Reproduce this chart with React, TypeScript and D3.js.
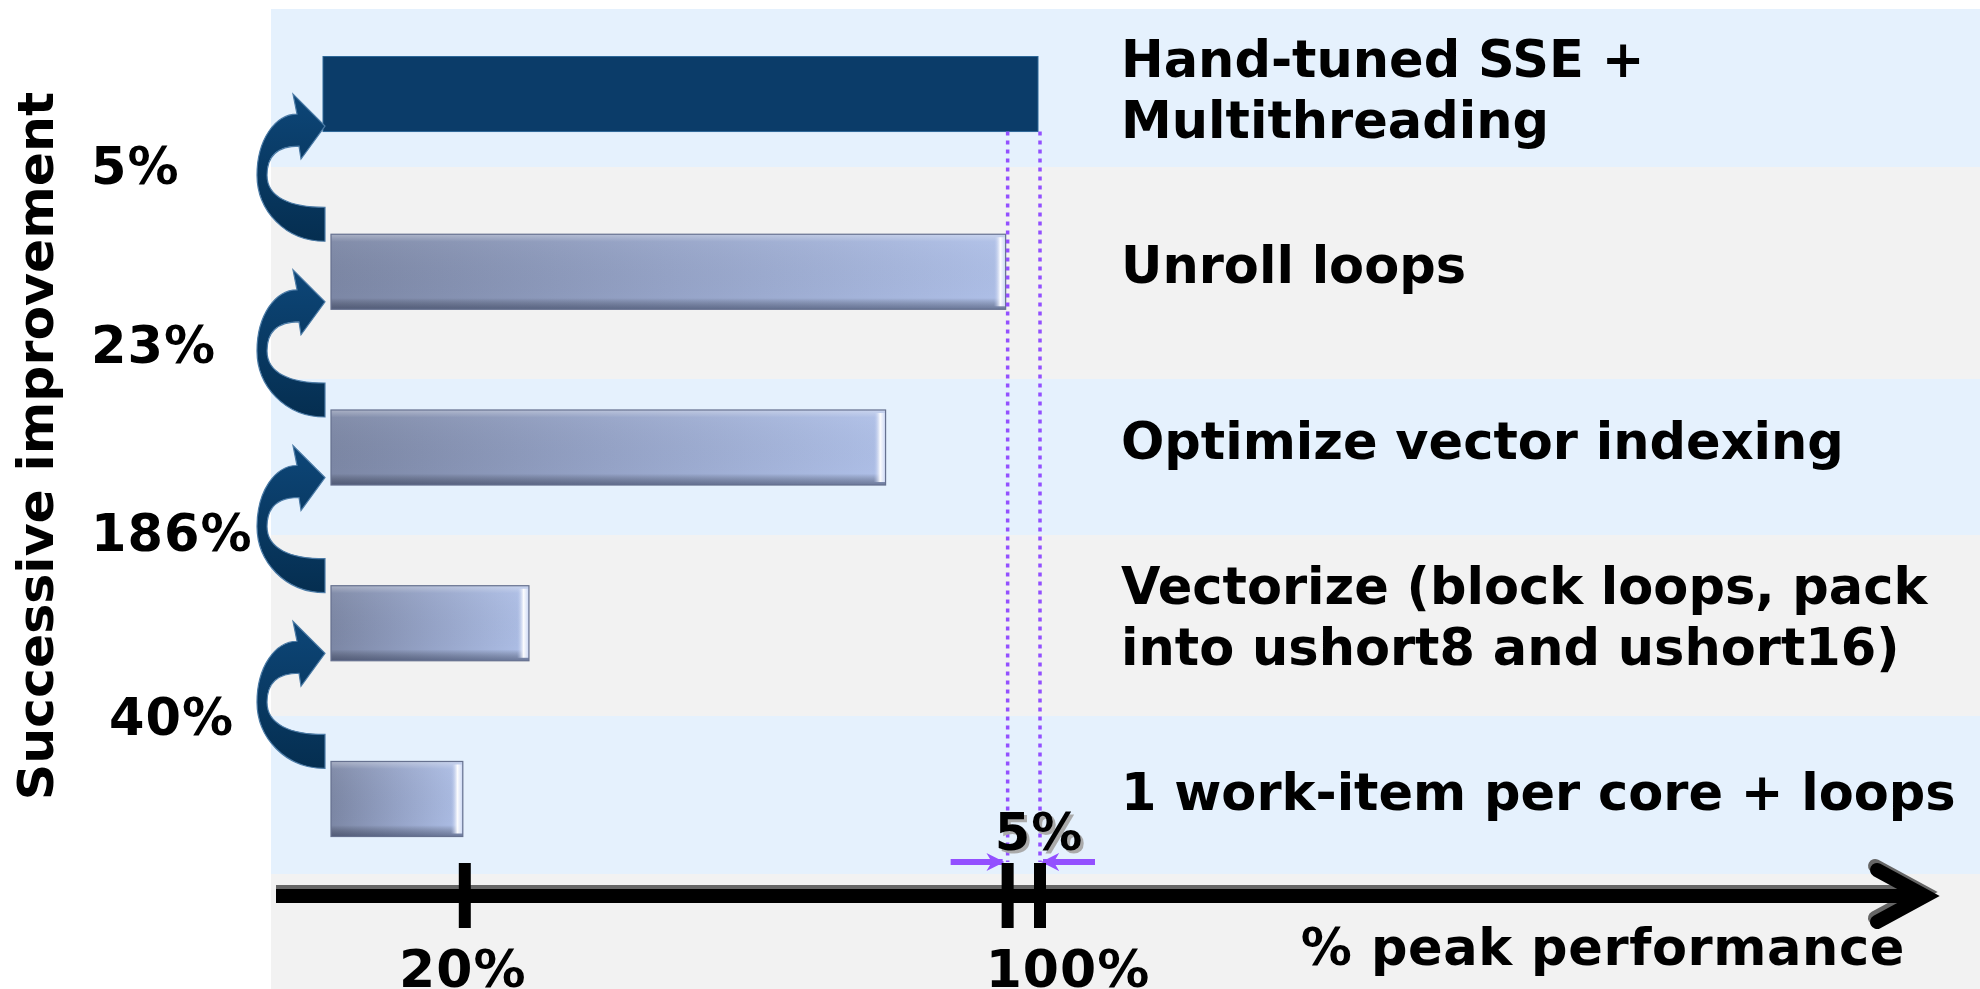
import React from 'react';
import * as d3 from 'd3';

// rows, top to bottom
const categories = [
  'Hand-tuned SSE + Multithreading',
  'Unroll loops',
  'Optimize vector indexing',
  'Vectorize (block loops, pack into ushort8 and ushort16)',
  '1 work-item per core + loops',
];
const labelLines = [
  ['Hand-tuned SSE +', 'Multithreading'],
  ['Unroll loops'],
  ['Optimize vector indexing'],
  ['Vectorize (block loops, pack', 'into ushort8 and ushort16)'],
  ['1 work-item per core + loops'],
];
const peakPct = [100, 95.5, 78.8, 29.2, 20];
const improvements = ['5%', '23%', '186%', '40%'];
const tickValues = [20, 95.5, 100];
const tickLabelValues = [20, 100];
const tickLabels = ['20%', '100%'];
const gapLabel = '5%';
const yTitle = 'Successive improvement';
const xTitle = '% peak performance';

const W = 1980;
const H = 989;
const FONT = "'DejaVu Sans', Verdana, sans-serif";
const rowEdges = [9, 167, 379, 535, 716, 874, H]; // background stripes
const PURPLE = '#9350FF';

// PowerPoint-like curved right arrow, tail at the bottom, head at the top
function curvedArrow(xt: number, yHead: number, yTail: number) {
  const ym = (yHead + yTail) / 2;
  const p = d3.path();
  p.moveTo(xt, yTail + 17);
  p.bezierCurveTo(xt - 40, yTail + 17, xt - 68, ym + 35, xt - 68, ym);
  p.bezierCurveTo(xt - 68, ym - 35, xt - 50, yHead - 12, xt - 28, yHead - 12);
  p.lineTo(xt - 32, yHead - 32);
  p.lineTo(xt, yHead);
  p.lineTo(xt - 24, yHead + 33);
  p.lineTo(xt - 26, yHead + 20);
  p.bezierCurveTo(xt - 45, yHead + 20, xt - 58, ym - 22, xt - 58, ym);
  p.bezierCurveTo(xt - 58, ym + 22, xt - 35, yTail - 17, xt, yTail - 17);
  p.closePath();
  return p.toString();
}

export default function App() {
  const x = d3.scaleLinear().domain([0, 100]).range([319, 1038]);
  const y = d3
    .scaleBand<string>()
    .domain(categories)
    .range([58.5, 836.5])
    .paddingInner(0.573)
    .paddingOuter(0);
  const bw = y.bandwidth();
  const yImp = d3.scalePoint<string>().domain(improvements).range([184, 735]);
  const barLeft = (i: number) => (i === 0 ? x(0) + 4 : x(0) + 12);

  const axisY = 896;
  const axisStart = 276;
  const tipX = 1925;

  return (
    <svg
      width={W}
      height={H}
      style={{ position: 'absolute', left: 0, top: 0, display: 'block', background: '#fff' }}
      fontFamily={FONT}
    >
      <defs>
        <linearGradient id="barFill" x1="0" x2="1" y1="0" y2="0">
          <stop offset="0" stopColor="#7C87A5" />
          <stop offset="0.5" stopColor="#95A3C7" />
          <stop offset="1" stopColor="#AEBFE7" />
        </linearGradient>
        <linearGradient id="barBevel" x1="0" x2="0" y1="0" y2="1">
          <stop offset="0" stopColor="#fff" stopOpacity="0.35" />
          <stop offset="0.1" stopColor="#fff" stopOpacity="0.05" />
          <stop offset="0.85" stopColor="#000" stopOpacity="0" />
          <stop offset="1" stopColor="#1c2540" stopOpacity="0.45" />
        </linearGradient>
        <linearGradient id="barEnd" x1="0" x2="1" y1="0" y2="0">
          <stop offset="0" stopColor="#B4C4EC" stopOpacity="0" />
          <stop offset="0.55" stopColor="#ffffff" stopOpacity="0.95" />
          <stop offset="1" stopColor="#C9D6F4" />
        </linearGradient>
        <linearGradient id="arrowFill" x1="0" x2="0" y1="0" y2="1">
          <stop offset="0" stopColor="#0D4678" />
          <stop offset="1" stopColor="#052E50" />
        </linearGradient>
        <marker id="pArrow" viewBox="0 0 10 10" refX="9" refY="5" markerWidth="3" markerHeight="3" orient="auto">
          <path d="M0,0 L10,5 L0,10 L3,5 Z" fill={PURPLE} />
        </marker>
      </defs>

      {/* background stripes */}
      {rowEdges.slice(0, -1).map((e, i) => (
        <rect
          key={i}
          x={271}
          y={e}
          width={W - 271}
          height={rowEdges[i + 1] - e}
          fill={i % 2 === 0 ? '#E5F1FD' : '#F2F2F2'}
        />
      ))}

      {/* bars */}
      {categories.map((c, i) => {
        const x0 = barLeft(i);
        const x1 = x(peakPct[i]);
        const y0 = y(c)!;
        if (i === 0) {
          return (
            <rect key={c} x={x0} y={y0 - 2} width={x1 - x0} height={bw} fill="#0B3C69" stroke="#2E6898" strokeWidth={1} />
          );
        }
        return (
          <g key={c}>
            <rect x={x0} y={y0} width={x1 - x0} height={bw} fill="url(#barFill)" />
            <rect x={x0} y={y0} width={x1 - x0} height={bw} fill="url(#barBevel)" />
            <rect x={x1 - 12} y={y0 + 3} width={12} height={bw - 6} fill="url(#barEnd)" />
            <rect x={x0} y={y0} width={x1 - x0} height={bw} fill="none" stroke="#66718F" strokeWidth={1.2} />
          </g>
        );
      })}

      {/* curved improvement arrows + labels */}
      {improvements.map((lab, i) => {
        const xt = barLeft(i + 1) - 6;
        const yHead = y(categories[i])! + bw * 0.9;
        const yTail = y(categories[i + 1])! - 10;
        return (
          <g key={lab}>
            <path d={curvedArrow(xt, yHead, yTail)} fill="url(#arrowFill)" stroke="#4C7BA6" strokeWidth={1.2} />
            <text
              x={i === improvements.length - 1 ? 109 : 91}
              y={yImp(lab)! - (i === 1 ? 5 : 0)}
              fontSize={51}
              fontWeight="bold"
              fill="#000"
              letterSpacing={1}
            >
              {lab}
            </text>
          </g>
        );
      })}

      {/* category labels */}
      {categories.map((c, i) => {
        const lines = labelLines[i];
        const cy = y(c)! + bw / 2 - 7;
        const first = cy - ((lines.length - 1) * 61) / 2 + 18;
        return (
          <text key={c} x={1121} fontSize={51} fontWeight="bold" fill="#000">
            {lines.map((l, k) => (
              <tspan key={k} x={1121} y={first + k * 61}>
                {l}
              </tspan>
            ))}
          </text>
        );
      })}

      {/* dotted guide lines for the 5% gap */}
      {[peakPct[1], peakPct[0]].map((v, i) => (
        <line
          key={i}
          x1={x(v) + 2}
          x2={x(v) + 2}
          y1={y(categories[0])! + bw - 2}
          y2={862}
          stroke={PURPLE}
          strokeWidth={3.5}
          strokeDasharray="4 5"
        />
      ))}
      <line x1={x(peakPct[1]) - 55} x2={x(peakPct[1]) - 3} y1={862} y2={862} stroke={PURPLE} strokeWidth={6} markerEnd="url(#pArrow)" />
      <line x1={x(peakPct[0]) + 57} x2={x(peakPct[0]) + 5} y1={862} y2={862} stroke={PURPLE} strokeWidth={6} markerEnd="url(#pArrow)" />
      <text x={x(peakPct[0]) + 1} y={850} fontSize={51} fontWeight="bold" textAnchor="middle" fill="#000" letterSpacing={1} style={{ filter: 'drop-shadow(3px 3px 0 #aaa)' }}>
        {gapLabel}
      </text>

      {/* x axis */}
      <line x1={axisStart} x2={tipX - 6} y1={axisY - 4} y2={axisY - 4} stroke="#666" strokeWidth={14} />
      <polyline
        points={`${tipX - 50},${axisY - 30} ${tipX - 2},${axisY - 4} ${tipX - 50},${axisY + 22}`}
        fill="none"
        stroke="#666"
        strokeWidth={14}
        strokeLinecap="round"
      />
      <line x1={axisStart} x2={tipX - 6} y1={axisY} y2={axisY} stroke="#000" strokeWidth={14} />
      <polyline
        points={`${tipX - 48},${axisY - 26} ${tipX},${axisY} ${tipX - 48},${axisY + 26}`}
        fill="none"
        stroke="#000"
        strokeWidth={14}
        strokeLinecap="round"
      />
      {tickValues.map((v) => (
        <line key={v} x1={x(v) + 2} x2={x(v) + 2} y1={863} y2={928} stroke="#000" strokeWidth={12} />
      ))}
      {tickLabelValues.map((v, i) => (
        <text key={v} x={x(v) + (v === 100 ? 30 : 0)} y={987} fontSize={52} fontWeight="bold" textAnchor="middle" fill="#000" letterSpacing={1}>
          {tickLabels[i]}
        </text>
      ))}
      <text x={1905} y={965} fontSize={51} fontWeight="bold" textAnchor="end" fill="#000" letterSpacing={0.6}>
        {xTitle}
      </text>

      {/* y title */}
      <text transform="translate(53,446) rotate(-90)" fontSize={50.5} fontWeight="bold" textAnchor="middle" fill="#000">
        {yTitle}
      </text>
    </svg>
  );
}
